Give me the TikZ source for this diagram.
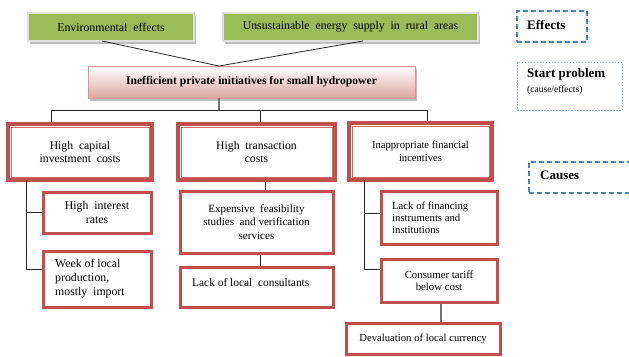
\documentclass[tikz,border=0pt]{standalone}
\usepackage{fontspec}
\setmainfont{Liberation Serif}
\usetikzlibrary{calc,shadows}
\definecolor{cred}{HTML}{C0504D}
\definecolor{cpink}{HTML}{D99694}
\definecolor{cgreen}{HTML}{9BBB59}
\definecolor{cblue}{HTML}{4F81BD}
\definecolor{clblue}{HTML}{8EB4E3}
\tikzset{
  effbox/.style={fill=cgreen, draw=black!12, line width=1.5pt, minimum height=28pt, inner sep=0pt,
    font=\fontsize{11.8}{13}\selectfont, general shadow={shadow xshift=2pt, shadow yshift=-2.5pt, fill=black!25}},
  probbox/.style={top color=white, bottom color=cpink!85, draw=cpink, line width=1pt, minimum height=32pt,
    font=\bfseries\fontsize{11.6}{13}\selectfont, general shadow={shadow xshift=2pt, shadow yshift=-2.5pt, fill=black!25}},
  mainbox/.style={draw=cred, line width=4.5pt, fill=white, inner sep=0pt, align=center},
  subbox/.style={draw=cred, line width=3pt, fill=white, inner sep=0pt},
  innerline/.style={draw=cred!85, line width=0.9pt},
  conn/.style={draw=black!85, line width=0.8pt},
  gconn/.style={draw=black!55, line width=1.3pt},
  legdash/.style={draw=cblue, line width=1.4pt, dash pattern=on 5pt off 3pt},
  legdot/.style={draw=clblue, line width=0.9pt, dash pattern=on 1.5pt off 1.5pt},
}
\begin{document}
\begin{tikzpicture}[x=1pt,y=-1pt]
\useasboundingbox (0,0) rectangle (629,356);
% effects
\node[effbox, minimum width=166pt] (env) at (111,27) {Environmental\ \ effects};
\node[effbox, minimum width=255pt] (uns) at (350.5,27) {Unsustainable\ \ energy\ \ supply\ \ in\ \ rural\ \ areas};
% start problem
\node[probbox, minimum width=327pt] (prob) at (251.5,82) {Inefficient private initiatives for small hydropower};
% level 1
\node[mainbox, minimum width=144pt, minimum height=56pt, font=\fontsize{11.7}{13.5}\selectfont] (A) at (80,152) {High\ \ capital\\investment\ \ costs};
\node[mainbox, minimum width=157pt, minimum height=56pt, font=\fontsize{11.7}{13.5}\selectfont] (B) at (256.5,152) {High\ \ transaction\\costs};
\node[mainbox, minimum width=143pt, minimum height=57pt, font=\fontsize{10.6}{12.5}\selectfont] (C) at (420.5,151.5) {Inappropriate financial\\incentives};
\foreach \n in {A,B,C}{
  \draw[innerline] ($(\n.north west)+(5.3,5.3)$) rectangle ($(\n.south east)+(-5.3,-5.3)$);
}
% level 2
\node[subbox, minimum width=108pt, minimum height=41pt, align=center, font=\fontsize{11.8}{13.5}\selectfont] (A1) at (97,212.5) {High\ \ interest\\rates};
\node[subbox, minimum width=108pt, minimum height=56pt] (A2) at (97,279) {};
\node[anchor=west, align=left, inner sep=0pt, font=\fontsize{11.8}{14.3}\selectfont] (A2t) at (55,278.5) {Week of local\\production,\\mostly\ \ import};
\node[subbox, minimum width=153pt, minimum height=62pt, align=center, font=\fontsize{11.1}{13.7}\selectfont] (B1) at (256.5,222) {Expensive\ \ feasibility\\studies\ \ and verification\\services};
\node[subbox, minimum width=153pt, minimum height=40pt] (B2) at (256.5,287) {};
\node[anchor=west, inner sep=0pt, font=\fontsize{11.4}{13}\selectfont] (B2t) at (192,282.5) {Lack of local\ \ consultants};
\node[subbox, minimum width=116pt, minimum height=53pt] (C1) at (439,217.5) {};
\node[anchor=west, align=left, inner sep=0pt, font=\fontsize{10.7}{12.2}\selectfont] (C1t) at (392,217.5) {Lack of financing\\instruments and\\institutions};
\node[subbox, minimum width=116pt, minimum height=43pt, align=center, font=\fontsize{10.8}{11.8}\selectfont] (C2) at (439,280.5) {Consumer tariff\\below cost};
\node[subbox, minimum width=154pt, minimum height=31pt, font=\fontsize{10.7}{12}\selectfont] (C3) at (423,338.5) {Devaluation of local currency};
% legend
\node[legdash, minimum width=70pt, minimum height=31pt, inner sep=0pt] (leff) at (552,26.5) {};
\node[anchor=west, inner sep=0pt, font=\bfseries\fontsize{13}{14}\selectfont] (lefft) at (527,24.5) {Effects};
\node[legdot, minimum width=105pt, minimum height=48pt, inner sep=0pt] (lsp) at (569.5,86) {};
\node[anchor=west, inner sep=0pt, font=\bfseries\fontsize{13}{14}\selectfont] (lspt) at (527,74) {Start\ problem};
\node[anchor=west, inner sep=0pt, font=\fontsize{9.5}{10}\selectfont] (lspt2) at (527,90) {(cause/effects)};
\node[legdash, minimum width=112pt, minimum height=31pt, inner sep=0pt] (lcau) at (585,177.5) {};
\node[anchor=west, inner sep=0pt, font=\bfseries\fontsize{13}{14}\selectfont] (lcaut) at (540,175.5) {Causes};
% connectors
\coordinate (envfoot) at (102,41);
\coordinate (unsfoot) at (363,41);
\coordinate (join) at (219,66);
\coordinate (stem) at (219,98);
\coordinate (bl) at (51,110);
\coordinate (bm) at (260,110);
\coordinate (br) at (427,110);
\draw[conn] (envfoot) -- (join) -- (unsfoot);
\draw[gconn] (stem) -- (stem |- bl);
\draw[conn] (bl) -- (br);
\draw[conn] (bl) -- (bl |- A.north);
\draw[conn] (bm) -- (bm |- B.north);
\draw[conn] (br) -- (br |- C.north);
\coordinate (as) at (26,180);
\draw[conn] (as) |- ($(A2.west)+(0,-10)$);
\draw[conn] (as |- A1.west) -- (A1.west);
\draw[conn] ($(B.south)+(8.5,0)$) -- ($(B1.north)+(8.5,0)$);
\draw[conn] ($(B1.south)+(3.5,0)$) -- ($(B2.north)+(3.5,0)$);
\coordinate (cs) at (364,180);
\draw[conn] (cs) |- ($(C2.west)+(0,-11.5)$);
\draw[conn] (cs |- C1.west) ++(0,-4.5) -- ($(C1.west)+(0,-4.5)$);
\draw[gconn] ($(C2.south)+(2,0)$) -- ($(C3.north)+(18,0)$);
\end{tikzpicture}
\end{document}
